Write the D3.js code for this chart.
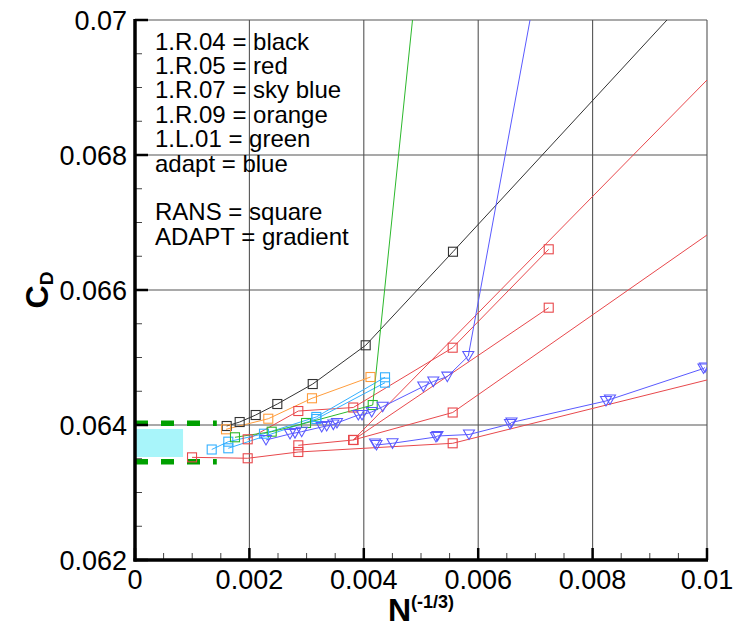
<!DOCTYPE html>
<html>
<head>
<meta charset="utf-8">
<script src="https://cdn.jsdelivr.net/npm/d3@7"></script>
<style>
  body { margin: 0; background: #fff; }
  svg { font-family: "Liberation Sans", Arial, Helvetica, sans-serif; }
</style>
</head>
<body>
<div id="wrapper"></div>
<script>
/* 1. Data */
const xTickValues = [0, 0.002, 0.004, 0.006, 0.008, 0.01]
const xTickLabels = ["0", "0.002", "0.004", "0.006", "0.008", "0.01"]
const yTickValues = [0.062, 0.064, 0.066, 0.068, 0.07]
const yTickLabels = ["0.062", "0.064", "0.066", "0.068", "0.07"]

const legendLines = [
    "1.R.04 = black", "1.R.05 = red", "1.R.07 = sky blue", "1.R.09 = orange",
    "1.L.01 = green", "adapt = blue", "", "RANS = square", "ADAPT = gradient",
]

// uncertainty band and limits near N -> infinity
const bandX = [0, 0.00084]
const bandY = [0.063526, 0.063941]
const limitX = [0, 0.00143]
const limitY = [0.063456, 0.064025]

// 1.R.04 (black)
const r04 = [[0.001603, 0.063985], [0.00183, 0.064044], [0.00211, 0.064148], [0.002488, 0.064311],
    [0.003107, 0.064607], [0.004033, 0.065181], [0.005559, 0.066567]]
const r04Tail = [[0.0093, 0.07]]

// 1.R.05 (red), several runs
const r05a = [[0.000997, 0.063521], [0.00197, 0.063507], [0.002855, 0.0636], [0.005554, 0.063729]]
const r05aTail = [[0.01, 0.064667]]
const r05b = [[0.00197, 0.063788], [0.002855, 0.064207], [0.003816, 0.064259], [0.005554, 0.065145], [0.007233, 0.066603]]
const r05c = [[0.002855, 0.063699], [0.003816, 0.063778], [0.005554, 0.064185]]
const r05cTail = [[0.01, 0.066815]]
const r05d = [[0.003816, 0.063778], [0.007233, 0.065738]]
const r05e = [[0.003816, 0.063778]]
const r05eTail = [[0.01, 0.069111]]

// 1.R.07 (sky blue)
const r07a = [[0.001341, 0.063637], [0.001631, 0.063753], [0.002255, 0.063871], [0.00317, 0.064119], [0.004371, 0.064707]]
const r07b = [[0.001631, 0.063655], [0.00317, 0.064089], [0.004371, 0.064627]]

// 1.R.09 (orange)
const r09 = [[0.001591, 0.063936], [0.00233, 0.064093], [0.003094, 0.064396], [0.004117, 0.064711]]

// 1.L.01 (green)
const l01 = [[0.001748, 0.063818], [0.00239, 0.063901], [0.00299, 0.06403], [0.004156, 0.064296]]
const l01Tail = [[0.004855, 0.07003]]

// adapt (blue)
const adaptA = [[0.00229, 0.063778], [0.00271, 0.063867], [0.002797, 0.063881], [0.002914, 0.063901],
    [0.003264, 0.06397], [0.003351, 0.063985], [0.003467, 0.064007], [0.003531, 0.06403],
    [0.003904, 0.064148], [0.003969, 0.064148], [0.004138, 0.064193], [0.00433, 0.064271],
    [0.00504, 0.06457], [0.005215, 0.064644], [0.00546, 0.064716], [0.005827, 0.065022]]
const adaptATail = [[0.006906, 0.07]]
const adaptB = [[0.004196, 0.063726], [0.004222, 0.063704], [0.004502, 0.063729], [0.005262, 0.063822],
    [0.005288, 0.063837], [0.005839, 0.063859], [0.006556, 0.064015], [0.006582, 0.064037],
    [0.008234, 0.064356], [0.008304, 0.064378], [0.009939, 0.064837], [0.009965, 0.064852]]

const series = [
    { pts: r05a, tail: r05aTail, color: "#e8484c", shape: "square" },
    { pts: r05b, tail: [], color: "#e8484c", shape: "square" },
    { pts: r05c, tail: r05cTail, color: "#e8484c", shape: "square" },
    { pts: r05d, tail: [], color: "#e8484c", shape: "square" },
    { pts: r05e, tail: r05eTail, color: "#e8484c", shape: "square" },
    { pts: r04, tail: r04Tail, color: "#333333", shape: "square" },
    { pts: r09, tail: [], color: "#ff9d3c", shape: "square" },
    { pts: r07a, tail: [], color: "#34b0ff", shape: "square" },
    { pts: r07b, tail: [], color: "#34b0ff", shape: "square" },
    { pts: l01, tail: l01Tail, color: "#2cb82c", shape: "square" },
    { pts: adaptA, tail: adaptATail, color: "#5a5aff", shape: "triangle" },
    { pts: adaptB, tail: [], color: "#5a5aff", shape: "triangle" },
]

/* 2. Dimensions */
let dimensions = {
    width: 733,
    height: 629,
    margin: { top: 20, right: 26, bottom: 69, left: 135 },
}
dimensions.boundedWidth = dimensions.width - dimensions.margin.left - dimensions.margin.right
dimensions.boundedHeight = dimensions.height - dimensions.margin.top - dimensions.margin.bottom

/* 3. Canvas */
const wrapper = d3.select("#wrapper")
    .append("svg")
    .attr("width", dimensions.width)
    .attr("height", dimensions.height)

const bounds = wrapper.append("g")
    .attr("transform", `translate(${dimensions.margin.left},${dimensions.margin.top})`)

bounds.append("clipPath")
    .attr("id", "plotClip")
    .append("rect")
    .attr("width", dimensions.boundedWidth)
    .attr("height", dimensions.boundedHeight)

/* 4. Scales */
const xScale = d3.scaleLinear()
    .domain([0, 0.01])
    .range([0, dimensions.boundedWidth])

const yScale = d3.scaleLinear()
    .domain([0.062, 0.07])
    .range([dimensions.boundedHeight, 0])

/* 5. Grid */
const grid = bounds.append("g")
grid.selectAll(".vgrid")
    .data(xTickValues.slice(1))
    .join("line")
    .attr("x1", d => xScale(d)).attr("x2", d => xScale(d))
    .attr("y1", 0).attr("y2", dimensions.boundedHeight)
    .attr("stroke", "#555").attr("stroke-width", 1.1)
grid.selectAll(".hgrid")
    .data(yTickValues.slice(1))
    .join("line")
    .attr("x1", 0).attr("x2", dimensions.boundedWidth)
    .attr("y1", d => yScale(d)).attr("y2", d => yScale(d))
    .attr("stroke", "#555").attr("stroke-width", 1.1)

/* 6. Data */
const plot = bounds.append("g").attr("clip-path", "url(#plotClip)")

plot.append("rect")
    .attr("x", xScale(bandX[0]))
    .attr("y", yScale(bandY[1]))
    .attr("width", xScale(bandX[1]) - xScale(bandX[0]))
    .attr("height", yScale(bandY[0]) - yScale(bandY[1]))
    .attr("fill", "#a8f5fa")

plot.selectAll(".limit")
    .data(limitY)
    .join("line")
    .attr("x1", xScale(limitX[0])).attr("x2", xScale(limitX[1]))
    .attr("y1", d => yScale(d)).attr("y2", d => yScale(d))
    .attr("stroke", "#00a000")
    .attr("stroke-width", 5.5)
    .attr("stroke-dasharray", "13,13")

const lineGen = d3.line()
    .x(d => xScale(d[0]))
    .y(d => yScale(d[1]))

series.forEach(s => {
    plot.append("path")
        .datum(s.pts.concat(s.tail))
        .attr("d", lineGen)
        .attr("fill", "none")
        .attr("stroke", s.color)
        .attr("stroke-width", 1)
})

const triangle = "M-5.5,-4.5L5.5,-4.5L0,5Z"
series.forEach(s => {
    const g = plot.append("g")
    if (s.shape === "square") {
        g.selectAll("rect")
            .data(s.pts)
            .join("rect")
            .attr("x", d => xScale(d[0]) - 4.5)
            .attr("y", d => yScale(d[1]) - 4.5)
            .attr("width", 9).attr("height", 9)
            .attr("fill", "none")
            .attr("stroke", s.color)
            .attr("stroke-width", 1.1)
    } else {
        g.selectAll("path")
            .data(s.pts)
            .join("path")
            .attr("d", triangle)
            .attr("transform", d => `translate(${xScale(d[0])},${yScale(d[1])})`)
            .attr("fill", "none")
            .attr("stroke", s.color)
            .attr("stroke-width", 1.1)
    }
})

/* 7. Axes */
const minorX = d3.range(0, 0.01, 0.0005).filter((d, i) => i % 4 !== 0)
const minorY = d3.range(0.062, 0.07, 0.0005).filter((d, i) => i % 4 !== 0)

const xAxis = bounds.append("g")
    .attr("transform", `translate(0,${dimensions.boundedHeight})`)
xAxis.selectAll(".minor")
    .data(minorX)
    .join("line")
    .attr("x1", d => xScale(d)).attr("x2", d => xScale(d))
    .attr("y1", 0).attr("y2", -7)
    .attr("stroke", "#444").attr("stroke-width", 1)
xAxis.selectAll(".major")
    .data(xTickValues)
    .join("line")
    .attr("x1", d => xScale(d)).attr("x2", d => xScale(d))
    .attr("y1", 0).attr("y2", -12)
    .attr("stroke", "#000").attr("stroke-width", 2.5)
xAxis.append("line")
    .attr("x1", -1.5).attr("x2", dimensions.boundedWidth + 1)
    .attr("stroke", "#000").attr("stroke-width", 3.5)
xAxis.selectAll("text")
    .data(xTickValues)
    .join("text")
    .attr("x", d => xScale(d))
    .attr("y", 29)
    .attr("text-anchor", "middle")
    .style("font-size", "27px")
    .text((d, i) => xTickLabels[i])

const yAxis = bounds.append("g")
yAxis.selectAll(".minor")
    .data(minorY)
    .join("line")
    .attr("x1", 0).attr("x2", 7)
    .attr("y1", d => yScale(d)).attr("y2", d => yScale(d))
    .attr("stroke", "#444").attr("stroke-width", 1)
yAxis.selectAll(".major")
    .data(yTickValues)
    .join("line")
    .attr("x1", 0).attr("x2", 13)
    .attr("y1", d => yScale(d)).attr("y2", d => yScale(d))
    .attr("stroke", "#000").attr("stroke-width", 2.5)
yAxis.append("line")
    .attr("y1", -1).attr("y2", dimensions.boundedHeight + 1.5)
    .attr("stroke", "#000").attr("stroke-width", 3.5)
yAxis.selectAll("text")
    .data(yTickValues)
    .join("text")
    .attr("x", -8)
    .attr("y", d => yScale(d))
    .attr("dy", "0.36em")
    .attr("text-anchor", "end")
    .style("font-size", "27px")
    .text((d, i) => yTickLabels[i])

// axis titles
const xTitle = wrapper.append("text")
    .attr("x", dimensions.margin.left + dimensions.boundedWidth / 2)
    .attr("y", 621)
    .attr("text-anchor", "middle")
    .style("font-weight", "bold")
xTitle.append("tspan").style("font-size", "32px").text("N")
xTitle.append("tspan").style("font-size", "18px").attr("dy", -13).text("(-1/3)")

const yTitle = wrapper.append("text")
    .attr("transform", `translate(48,${dimensions.margin.top + dimensions.boundedHeight / 2}) rotate(-90)`)
    .attr("text-anchor", "middle")
    .style("font-weight", "bold")
yTitle.append("tspan").style("font-size", "32px").text("C")
yTitle.append("tspan").style("font-size", "19px").attr("dy", 5).text("D")

/* 8. Legend text */
bounds.append("g")
    .selectAll("text")
    .data(legendLines)
    .join("text")
    .attr("x", 20)
    .attr("y", (d, i) => 29.5 + i * 24.4)
    .style("font-size", "24px")
    .text(d => d)
</script>
</body>
</html>
